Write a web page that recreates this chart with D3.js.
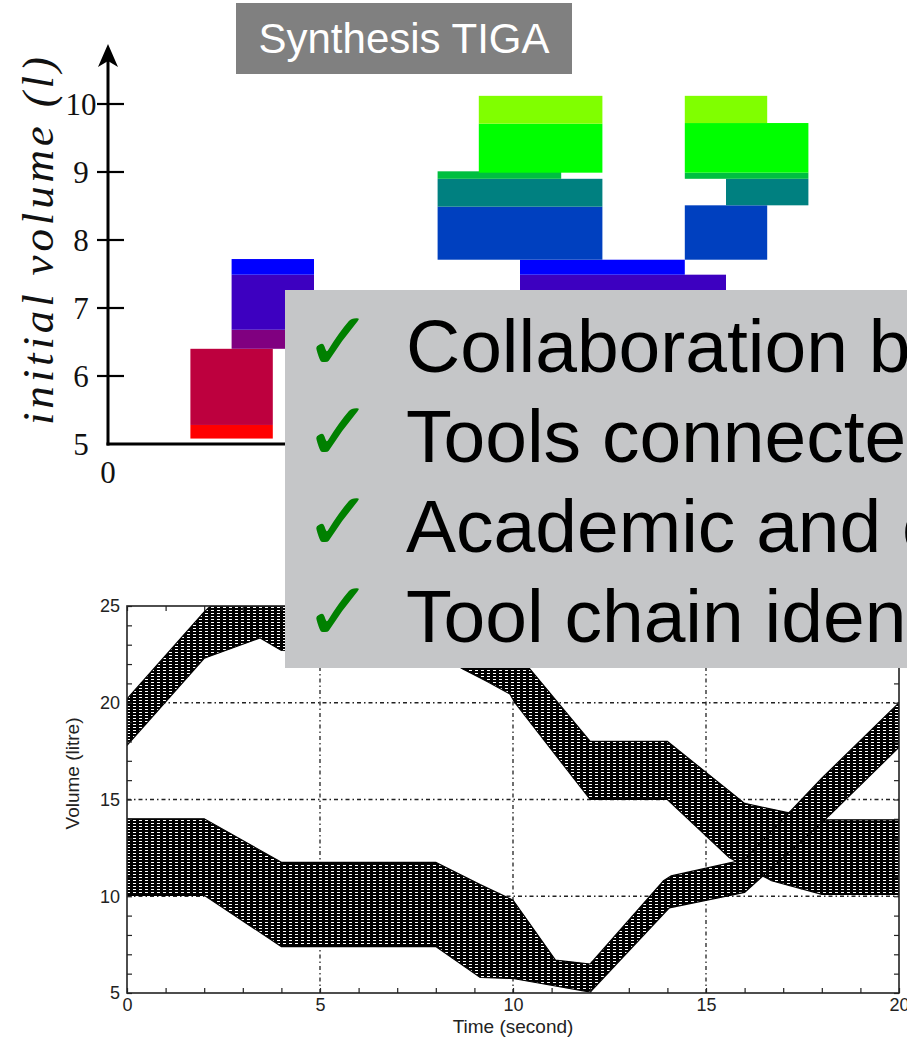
<!DOCTYPE html>
<html>
<head>
<meta charset="utf-8">
<script src="https://cdn.jsdelivr.net/npm/d3@7"></script>
<style>
  html, body { margin: 0; padding: 0; background: #fff; }
  svg { display: block; }
</style>
</head>
<body>
<svg id="slide" width="907" height="1041"></svg>
<script>
// ---------- Synthesised strategy cells (time slot x initial volume) ----------
const cellT0    = [2, 2, 3, 3, 3, 10, 10, 8, 8, 8, 9, 9, 14, 15, 14, 14, 14];
const cellT1    = [4, 4, 5, 5, 5, 15, 14, 12, 12, 11, 12, 12, 16, 17, 17, 17, 16];
const cellV0    = [5.08, 5.28, 6.40, 6.68, 7.49, 6.68, 7.49, 7.71, 8.49, 8.90, 8.99, 9.71, 7.71, 8.51, 8.90, 8.99, 9.72];
const cellV1    = [5.28, 6.40, 6.68, 7.49, 7.72, 7.49, 7.71, 8.49, 8.90, 9.01, 9.71, 10.12, 8.51, 8.90, 8.99, 9.72, 10.12];
const cellLevel = [0, 1, 2, 3, 4, 3, 4, 5, 6, 7, 8, 9, 5, 6, 7, 8, 9];
const levelColors = ["#ff0000", "#bd003e", "#800080", "#3d00c0", "#0000ff",
                     "#0040bf", "#008080", "#00bf40", "#00ff00", "#80ff00"];
const volumeTicks = [5, 6, 7, 8, 9, 10];

// ---------- Simulated volume envelopes (time, litre) ----------
const tankAUpper = [[0, 20.2], [2, 24.7], [3, 26.5], [8, 26.5], [9.5, 24.0], [10.5, 21.6], [12, 18.0],
                    [14, 18.0], [16, 14.8], [18, 13.95], [20, 13.95]];
const tankALower = [[0, 17.8], [2, 22.3], [3.45, 23.35], [4, 22.7], [8, 22.6], [8.7, 21.75], [9.33, 21.1],
                    [9.92, 20.45], [10.05, 20.0], [12, 15.0], [14, 15.0], [15.6, 12.0], [16.7, 10.8],
                    [18, 10.1], [20, 10.1]];
const tankBUpper = [[0, 14.0], [2, 14.0], [4, 11.75], [8, 11.75], [9.15, 10.6], [10, 9.8], [11.1, 6.7],
                    [12, 6.5], [13.9, 10.8], [14.1, 11.05], [16, 11.9], [18, 16.1], [20, 20.0]];
const tankBLower = [[0, 10.05], [2, 10.05], [4, 7.4], [8, 7.4], [9.15, 5.8], [10, 5.75], [12, 5.05],
                    [14.05, 9.4], [16, 10.2], [18, 13.8], [20, 17.7]];
const timeTicks = d3.range(0, 21);
const litreTicks = d3.range(5, 26);
const timeGrid = [5, 10, 15];
const litreGrid = [10, 15, 20];

// ---------- Bullet points ----------
const bullets = ["Collaboration between partners", "Tools connected", "Academic and case studies", "Tool chain identified"];

const svg = d3.select("#slide");
const sans = "'Liberation Sans', Arial, Helvetica, sans-serif";
const serif = "'Liberation Serif', 'DejaVu Serif', serif";

// =====================================================================
// Upper chart
// =====================================================================
const xTop = d3.scaleLinear().domain([0, 17]).range([108, 108 + 17 * 41.2]);
const yTop = d3.scaleLinear().domain([5, 10]).range([444, 104]);

const upperChart = svg.append("g");

const cells = d3.range(cellT0.length).map(i => ({
  t0: cellT0[i], t1: cellT1[i], v0: cellV0[i], v1: cellV1[i], level: cellLevel[i]
}));

upperChart.append("g").selectAll("rect").data(cells).join("rect")
  .attr("x", d => xTop(d.t0))
  .attr("y", d => yTop(d.v1))
  .attr("width", d => xTop(d.t1) - xTop(d.t0))
  .attr("height", d => yTop(d.v0) - yTop(d.v1))
  .attr("fill", d => levelColors[d.level]);

// axes
upperChart.append("line")
  .attr("x1", xTop(0)).attr("x2", xTop(0))
  .attr("y1", yTop(5) + 1.5).attr("y2", 52)
  .attr("stroke", "#000").attr("stroke-width", 3);
upperChart.append("path")
  .attr("d", `M${xTop(0)},44 L${xTop(0) - 10},67 L${xTop(0)},61 L${xTop(0) + 10},67 Z`)
  .attr("fill", "#000");
upperChart.append("line")
  .attr("x1", xTop(0) - 1.5).attr("x2", 880)
  .attr("y1", yTop(5)).attr("y2", yTop(5))
  .attr("stroke", "#000").attr("stroke-width", 3);

upperChart.append("g").selectAll("line").data(volumeTicks.filter(v => v > 5)).join("line")
  .attr("x1", xTop(0) - 11).attr("x2", xTop(0) + 16)
  .attr("y1", d => yTop(d)).attr("y2", d => yTop(d))
  .attr("stroke", "#000").attr("stroke-width", 2.2);

upperChart.append("g").selectAll("text").data(volumeTicks).join("text")
  .attr("x", 81).attr("y", d => yTop(d))
  .attr("dy", "0.34em")
  .attr("text-anchor", "middle")
  .attr("font-family", serif).attr("font-size", 31)
  .attr("fill", "#111")
  .text(d => d);

upperChart.append("text")
  .attr("x", xTop(0)).attr("y", 472).attr("dy", "0.34em")
  .attr("text-anchor", "middle")
  .attr("font-family", serif).attr("font-size", 31)
  .attr("fill", "#111")
  .text("0");

upperChart.append("text")
  .attr("transform", "translate(53,241) rotate(-90)")
  .attr("text-anchor", "middle")
  .attr("font-family", serif).attr("font-style", "italic").attr("font-size", 45)
  .attr("textLength", 368).attr("lengthAdjust", "spacing")
  .attr("fill", "#111")
  .text("initial volume (l)");

// =====================================================================
// Lower chart
// =====================================================================
const xB = d3.scaleLinear().domain([0, 20]).range([127, 899]);
const yB = d3.scaleLinear().domain([5, 25]).range([993, 606]);

const defs = svg.append("defs");
defs.append("clipPath").attr("id", "plotClip")
  .append("rect")
  .attr("x", xB(0)).attr("y", yB(25))
  .attr("width", xB(20) - xB(0)).attr("height", yB(5) - yB(25));

const mesh = defs.append("pattern").attr("id", "mesh")
  .attr("patternUnits", "userSpaceOnUse").attr("width", 6).attr("height", 3);
mesh.append("rect").attr("width", 6).attr("height", 3).attr("fill", "#000");
mesh.append("rect").attr("x", 1).attr("y", 1).attr("width", 3).attr("height", 1).attr("fill", "#fff");

const lowerChart = svg.append("g");
const ink = "#222";

// grid
lowerChart.append("g").selectAll("line").data(timeGrid).join("line")
  .attr("x1", d => xB(d)).attr("x2", d => xB(d))
  .attr("y1", yB(5)).attr("y2", yB(25))
  .attr("stroke", ink).attr("stroke-width", 1.3)
  .attr("stroke-dasharray", "4,3,1.5,3");
lowerChart.append("g").selectAll("line").data(litreGrid).join("line")
  .attr("x1", xB(0)).attr("x2", xB(20))
  .attr("y1", d => yB(d)).attr("y2", d => yB(d))
  .attr("stroke", ink).attr("stroke-width", 1.3)
  .attr("stroke-dasharray", "4,3,1.5,3");

// envelopes
const edge = d3.line().x(d => xB(d[0])).y(d => yB(d[1]));
const envelopes = [
  { upper: tankAUpper, lower: tankALower },
  { upper: tankBUpper, lower: tankBLower }
];
lowerChart.append("g").attr("clip-path", "url(#plotClip)")
  .selectAll("path").data(envelopes).join("path")
  .attr("d", d => edge(d.upper.concat(d.lower.slice().reverse())) + "Z")
  .attr("fill", "url(#mesh)")
  .attr("stroke", "#000").attr("stroke-width", 1.2);

// axes (ticks inward on all four sides)
const tickFont = g => g.selectAll("text")
  .attr("font-family", sans).attr("font-size", 18).attr("fill", ink);
const noDomain = g => g.select(".domain").remove();
const tickStyle = g => g.selectAll(".tick line").attr("stroke", ink).attr("stroke-width", 1.2);

lowerChart.append("g").attr("transform", `translate(0,${yB(5)})`)
  .call(d3.axisBottom(xB).tickValues(timeTicks).tickSize(-5).tickPadding(5)
    .tickFormat(d => d % 5 === 0 ? d : ""))
  .call(noDomain).call(tickStyle).call(tickFont);
lowerChart.append("g").attr("transform", `translate(0,${yB(25)})`)
  .call(d3.axisTop(xB).tickValues(timeTicks).tickSize(-5).tickFormat(""))
  .call(noDomain).call(tickStyle);
lowerChart.append("g").attr("transform", `translate(${xB(0)},0)`)
  .call(d3.axisLeft(yB).tickValues(litreTicks).tickSize(-5).tickPadding(7)
    .tickFormat(d => d % 5 === 0 ? d : ""))
  .call(noDomain).call(tickStyle).call(tickFont);
lowerChart.append("g").attr("transform", `translate(${xB(20)},0)`)
  .call(d3.axisRight(yB).tickValues(litreTicks).tickSize(-5).tickFormat(""))
  .call(noDomain).call(tickStyle);

lowerChart.append("rect")
  .attr("x", xB(0)).attr("y", yB(25))
  .attr("width", xB(20) - xB(0)).attr("height", yB(5) - yB(25))
  .attr("fill", "none").attr("stroke", ink).attr("stroke-width", 1.6);

lowerChart.append("text")
  .attr("x", (xB(0) + xB(20)) / 2).attr("y", 1033)
  .attr("text-anchor", "middle")
  .attr("font-family", sans).attr("font-size", 19).attr("fill", ink)
  .text("Time (second)");
lowerChart.append("text")
  .attr("transform", `translate(79,${(yB(5) + yB(25)) / 2 - 26}) rotate(-90)`)
  .attr("text-anchor", "middle")
  .attr("font-family", sans).attr("font-size", 19).attr("fill", ink)
  .text("Volume (litre)");

// =====================================================================
// Overlay panel with bullet list and title tag
// =====================================================================
const panel = svg.append("g");
panel.append("rect")
  .attr("x", 285).attr("y", 290).attr("width", 640).attr("height", 378)
  .attr("fill", "#c5c6c8");

const rows = panel.selectAll("g.row").data(bullets).join("g")
  .attr("class", "row")
  .attr("transform", (d, i) => `translate(0,${372 + i * 90})`);
rows.append("text")
  .attr("x", 304).attr("y", -2)
  .attr("font-family", "'DejaVu Sans', sans-serif").attr("font-size", 82)
  .attr("fill", "#008000")
  .text("\u2713");
rows.append("text")
  .attr("x", 406).attr("y", 0)
  .attr("font-family", sans).attr("font-size", 75)
  .attr("fill", "#000")
  .text(d => d);

const tag = svg.append("g");
tag.append("rect")
  .attr("x", 236).attr("y", 3).attr("width", 336).attr("height", 71)
  .attr("fill", "#808080");
tag.append("text")
  .attr("x", 404).attr("y", 53)
  .attr("text-anchor", "middle")
  .attr("font-family", sans).attr("font-size", 42)
  .attr("fill", "#fff")
  .text("Synthesis TIGA");
</script>
